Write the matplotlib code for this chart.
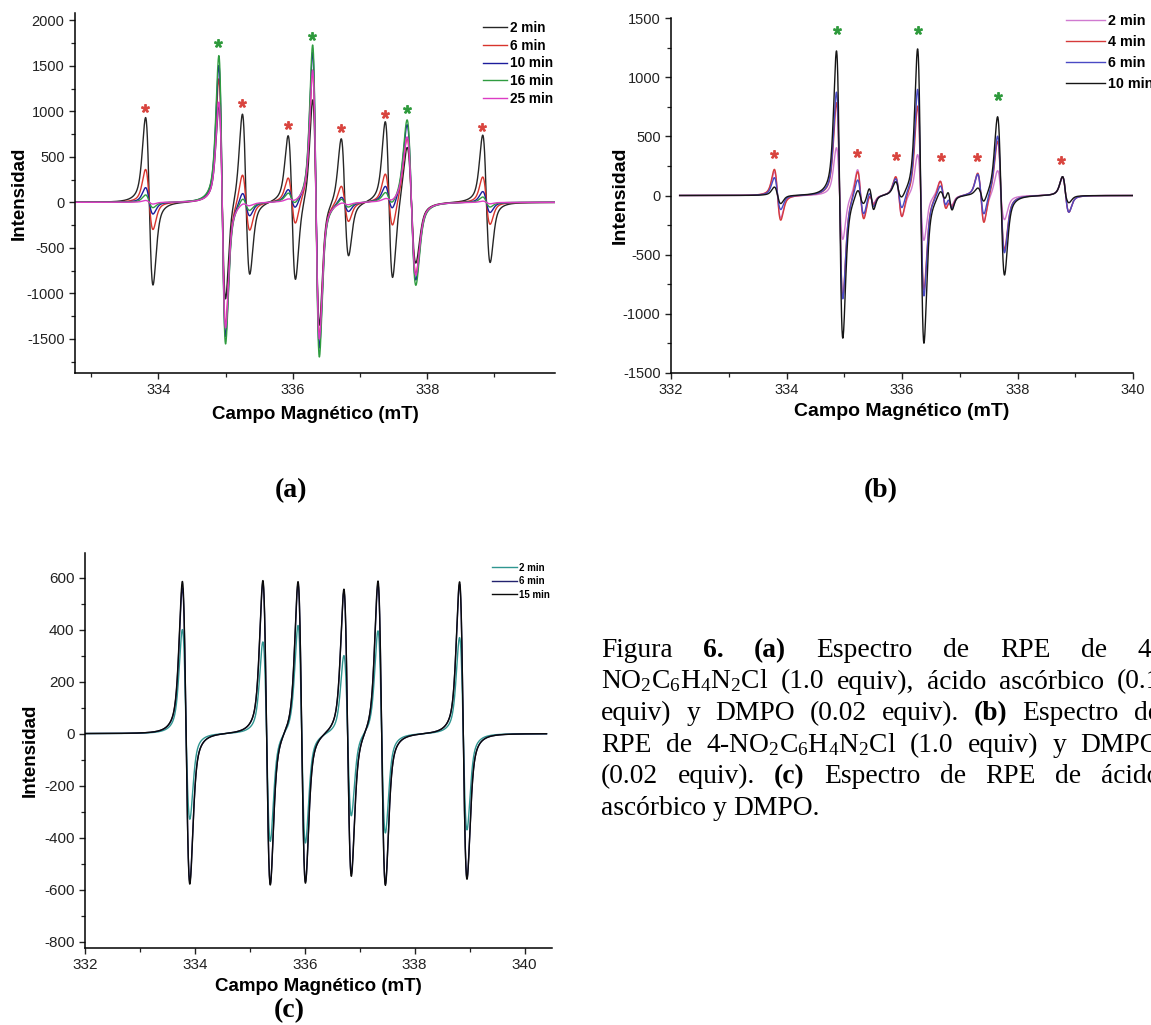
import numpy as np
import matplotlib
matplotlib.use("Agg")
import matplotlib.pyplot as plt
from matplotlib.ticker import MultipleLocator

plt.rcParams["font.family"] = ["Liberation Sans", "DejaVu Sans"]
plt.rcParams["mathtext.fontset"] = "custom"
plt.rcParams["mathtext.rm"] = "Liberation Serif"
plt.rcParams["mathtext.bf"] = "Liberation Serif:bold"
plt.rcParams["mathtext.default"] = "regular"
plt.rcParams["axes.unicode_minus"] = False

# ---------------- (a) 4-NO2C6H4N2Cl + ascorbic acid + DMPO ----------------
A_LABELS = ["2 min", "6 min", "10 min", "16 min", "25 min"]
A_COLORS = ["#262626", "#d8342c", "#1c1c9c", "#2f9c40", "#dc3cc4"]
# aryl adduct lines (red stars): field (mT), peak / trough intensities per time
A_ARYL_FIELD = [333.865, 335.305, 335.985, 336.775, 337.43, 338.88]
A_ARYL_PEAK = [
    [930, 1000, 720, 720, 870, 740],
    [360, 340, 250, 200, 290, 280],
    [160, 140, 120, 80, 150, 120],
    [80, 80, 80, 60, 80, 60],
    [20, 20, 20, 15, 20, 15],
]
A_ARYL_TROUGH = [
    [-910, -780, -880, -580, -870, -660],
    [-300, -290, -270, -200, -300, -240],
    [-130, -130, -100, -90, -120, -110],
    [-60, -70, -50, -40, -60, -50],
    [-20, -20, -15, -15, -20, -15],
]
# triplet lines (green stars)
A_TRIP_FIELD = [334.95, 336.345, 337.765]
A_TRIP_PEAK = [
    [1050, 1150, 650],
    [1350, 1460, 720],
    [1500, 1650, 860],
    [1610, 1730, 910],
    [1100, 1450, 720],
]
A_TRIP_TROUGH = [
    [-1100, -1350, -650],
    [-1390, -1480, -780],
    [-1480, -1600, -850],
    [-1560, -1700, -910],
    [-1380, -1500, -800],
]
A_RED_STARS_X = [333.80, 335.25, 335.93, 336.71, 337.37, 338.82]
A_RED_STARS_Y = [1040, 1095, 845, 820, 965, 825]
A_GREEN_STARS_X = [334.89, 336.29, 337.70]
A_GREEN_STARS_Y = [1745, 1825, 1030]

# ---------------- (b) 4-NO2C6H4N2Cl + DMPO ----------------
B_LABELS = ["2 min", "4 min", "6 min", "10 min"]
B_COLORS = ["#d07ad0", "#d63a3a", "#4a4ac4", "#151515"]
B_ARYL_FIELD = [333.845, 335.285, 335.945, 336.715, 337.365, 338.835]
B_ARYL_PEAK = [
    [200, 230, 140, 130, 170, 150],
    [220, 230, 150, 140, 180, 160],
    [150, 160, 130, 100, 170, 160],
    [70, 80, 100, 60, 50, 160],
]
B_ARYL_TROUGH = [
    [-190, -180, -190, -120, -220, -140],
    [-210, -190, -200, -130, -250, -140],
    [-120, -150, -130, -110, -180, -140],
    [-70, -60, -50, -60, -80, -60],
]
B_TRIP_FIELD = [334.92, 336.325, 337.715]
B_TRIP_PEAK = [
    [400, 350, 220],
    [780, 760, 470],
    [870, 900, 510],
    [1220, 1240, 670],
]
B_TRIP_TROUGH = [
    [-380, -380, -200],
    [-870, -800, -450],
    [-880, -850, -480],
    [-1210, -1250, -670],
]
# weak extra features between the main lines
B_EXTRA_FIELD = [335.47, 336.83]
B_EXTRA_PEAK = [[40, 40], [40, 40], [60, 60], [80, 90]]
B_EXTRA_TROUGH = [[-50, -50], [-60, -60], [-80, -80], [-110, -100]]
B_RED_STARS_X = [333.79, 335.22, 335.89, 336.68, 337.30, 338.75]
B_RED_STARS_Y = [350, 355, 335, 328, 322, 300]
B_GREEN_STARS_X = [334.88, 336.27, 337.66]
B_GREEN_STARS_Y = [1400, 1400, 840]

# ---------------- (c) ascorbic acid + DMPO ----------------
C_LABELS = ["2 min", "6 min", "15 min"]
C_COLORS = ["#2f9690", "#22226e", "#0a0a0a"]
C_FIELD = [333.84, 335.305, 335.945, 336.78, 337.40, 338.885]
C_PEAK = [
    [400, 350, 420, 300, 400, 370],
    [560, 575, 580, 545, 580, 575],
    [585, 585, 590, 555, 595, 585],
]
C_TROUGH = [
    [-330, -420, -420, -320, -380, -370],
    [-570, -585, -570, -545, -575, -555],
    [-580, -590, -575, -555, -580, -560],
]


def first_derivative_line(field, center, pp_width, peak, trough, eta=0.5):
    """First-derivative absorption line (pseudo-Voigt) whose extrema sit
    at center -/+ pp_width/2 with heights `peak` and `trough`."""
    d = field - center
    u = d / (pp_width / 2.0)
    gauss = -u * np.exp(0.5 - u ** 2 / 2.0)
    v = d / (pp_width * np.sqrt(3) / 2.0)
    lorentz = -v / (1 + v ** 2) ** 2 / (3 * np.sqrt(3) / 16)
    shape = eta * lorentz + (1 - eta) * gauss
    return np.where(d < 0, peak * shape, -trough * shape)


def spectrum(field, groups):
    total = np.zeros_like(field)
    for centers, peaks, troughs, width in groups:
        for c, p, t in zip(centers, peaks, troughs):
            total += first_derivative_line(field, c, width, p, t)
    return total


W, H = 1151, 1025
fig = plt.figure(figsize=(W / 100, H / 100), dpi=100)


def axes_px(left, top, right, bottom):
    return fig.add_axes([left / W, 1 - bottom / H, (right - left) / W, (bottom - top) / H])


def style_axes(ax, tick_size):
    for s in ("top", "right"):
        ax.spines[s].set_visible(False)
    for s in ("left", "bottom"):
        ax.spines[s].set_linewidth(1.1)
    ax.tick_params(which="major", direction="out", length=4.5, width=1.0, pad=3,
                   labelsize=tick_size, color="#222222", labelcolor="#222222")
    ax.tick_params(which="minor", direction="out", length=3, width=0.9, color="#222222")


def place_labels(ax, xlab_top, ylab_right, size):
    ax.set_xlabel("Campo Magnético (mT)", fontsize=size, fontweight="bold")
    ax.set_ylabel("Intensidad", fontsize=size, fontweight="bold")
    bb = ax.get_position()
    ax.xaxis.set_label_coords((bb.x0 + bb.x1) / 2, 1 - xlab_top / H, transform=fig.transFigure)
    ax.yaxis.set_label_coords(ylab_right / W, (bb.y0 + bb.y1) / 2, transform=fig.transFigure)


def stars(ax, xs, ys, color, size):
    ax.plot(xs, ys, linestyle="none", marker="$*$", color=color,
            markersize=size, zorder=10)


# ---- panel (a)
axa = axes_px(75, 13, 555, 373)
fa = np.linspace(332.76, 339.9, 3000)
for i, (lab, col) in enumerate(zip(A_LABELS, A_COLORS)):
    y = spectrum(fa, [(A_ARYL_FIELD, A_ARYL_PEAK[i], A_ARYL_TROUGH[i], 0.11),
                      (A_TRIP_FIELD[:2], A_TRIP_PEAK[i][:2], A_TRIP_TROUGH[i][:2], 0.10),
                      (A_TRIP_FIELD[2:], A_TRIP_PEAK[i][2:], A_TRIP_TROUGH[i][2:], 0.13)])
    axa.plot(fa, y, color=col, lw=1.0, label=lab)
axa.set_xlim(332.76, 339.9)
axa.set_ylim(-1875, 2080)
axa.xaxis.set_major_locator(MultipleLocator(2))
axa.xaxis.set_minor_locator(MultipleLocator(1))
axa.yaxis.set_major_locator(MultipleLocator(500))
axa.yaxis.set_minor_locator(MultipleLocator(250))
style_axes(axa, 10.5)
place_labels(axa, 406, 28, 13.5)
stars(axa, A_RED_STARS_X, A_RED_STARS_Y, "#d9453f", 5.5)
stars(axa, A_GREEN_STARS_X, A_GREEN_STARS_Y, "#2e9a3c", 5.5)
axa.legend(loc="upper left", bbox_to_anchor=(476 / W, 1 - 14 / H),
           bbox_transform=fig.transFigure, frameon=False, borderpad=0,
           handlelength=1.75, handletextpad=0.25, labelspacing=0.28,
           prop={"weight": "bold", "size": 9.8})

# ---- panel (b)
axb = axes_px(671, 18, 1133, 373)
fb = np.linspace(332.15, 340.0, 3000)
for i, (lab, col) in enumerate(zip(B_LABELS, B_COLORS)):
    y = spectrum(fb, [(B_ARYL_FIELD, B_ARYL_PEAK[i], B_ARYL_TROUGH[i], 0.11),
                      (B_EXTRA_FIELD, B_EXTRA_PEAK[i], B_EXTRA_TROUGH[i], 0.08),
                      (B_TRIP_FIELD[:2], B_TRIP_PEAK[i][:2], B_TRIP_TROUGH[i][:2], 0.11),
                      (B_TRIP_FIELD[2:], B_TRIP_PEAK[i][2:], B_TRIP_TROUGH[i][2:], 0.12)])
    axb.plot(fb, y, color=col, lw=1.0, label=lab)
axb.set_xlim(332, 340)
axb.set_ylim(-1500, 1500)
axb.xaxis.set_major_locator(MultipleLocator(2))
axb.xaxis.set_minor_locator(MultipleLocator(1))
axb.yaxis.set_major_locator(MultipleLocator(500))
axb.yaxis.set_minor_locator(MultipleLocator(250))
style_axes(axb, 10.5)
place_labels(axb, 403, 629, 14)
stars(axb, B_RED_STARS_X, B_RED_STARS_Y, "#d9453f", 5.5)
stars(axb, B_GREEN_STARS_X, B_GREEN_STARS_Y, "#2e9a3c", 5.5)
axb.legend(loc="upper left", bbox_to_anchor=(1059 / W, 1 - 7 / H),
           bbox_transform=fig.transFigure, frameon=False, borderpad=0,
           handlelength=2.7, handletextpad=0.25, labelspacing=0.48,
           prop={"weight": "bold", "size": 10.3})

# ---- panel (c)
axc = axes_px(85, 553, 552, 948)
fc = np.linspace(332.0, 340.4, 3000)
for i, (lab, col) in enumerate(zip(C_LABELS, C_COLORS)):
    y = spectrum(fc, [(C_FIELD, C_PEAK[i], C_TROUGH[i], 0.135)])
    axc.plot(fc, y, color=col, lw=1.0, label=lab)
axc.set_xlim(332, 340.5)
axc.set_ylim(-825, 695)
axc.xaxis.set_major_locator(MultipleLocator(2))
axc.xaxis.set_minor_locator(MultipleLocator(1))
axc.yaxis.set_major_locator(MultipleLocator(200))
axc.yaxis.set_minor_locator(MultipleLocator(100))
style_axes(axc, 11)
place_labels(axc, 978, 39, 13.5)
axc.legend(loc="upper left", bbox_to_anchor=(487 / W, 1 - 558 / H),
           bbox_transform=fig.transFigure, frameon=False, borderpad=0,
           handlelength=2.6, handletextpad=0.15, labelspacing=0.35,
           prop={"weight": "bold", "size": 7})

# ---- panel letters
serif = ["Liberation Serif", "DejaVu Serif"]
for txt, x, y in (("(a)", 291, 491), ("(b)", 881, 491), ("(c)", 289, 1011)):
    fig.text(x / W, 1 - y / H, txt, ha="center", va="center", family=serif,
             fontweight="bold", fontsize=20)

# ---- justified caption
CAPTION = [
    [("Figura", False), ("6.", True), ("(a)", True), ("Espectro", False), ("de", False),
     ("RPE", False), ("de", False), ("4-", False)],
    [("NO$_2$C$_6$H$_4$N$_2$Cl", False), ("(1.0", False), ("equiv),", False),
     ("ácido", False), ("ascórbico", False), ("(0.1", False)],
    [("equiv)", False), ("y", False), ("DMPO", False), ("(0.02", False), ("equiv).", False),
     ("(b)", True), ("Espectro", False), ("de", False)],
    [("RPE", False), ("de", False), ("4-NO$_2$C$_6$H$_4$N$_2$Cl", False), ("(1.0", False),
     ("equiv)", False), ("y", False), ("DMPO", False)],
    [("(0.02", False), ("equiv).", False), ("(c)", True), ("Espectro", False), ("de", False),
     ("RPE", False), ("de", False), ("ácido", False)],
    [("ascórbico", False), ("y", False), ("DMPO.", False)],
]
cap_left, cap_right, cap_top, cap_step = 601, 1160, 657, 31.6
cap_size = 19.8
renderer = fig.canvas.get_renderer()
for li, words in enumerate(CAPTION):
    ybase = cap_top + li * cap_step
    items = []
    for w, bold in words:
        t = fig.text(cap_left / W, 1 - ybase / H, w, ha="left", va="baseline",
                     family=serif, fontsize=cap_size,
                     fontweight="bold" if bold else "normal")
        items.append(t)
    widths = [t.get_window_extent(renderer).width for t in items]
    if li < len(CAPTION) - 1:
        gap = (cap_right - cap_left - sum(widths)) / (len(items) - 1)
    else:
        gap = cap_size * 100 / 72 * 0.25
    x = cap_left
    for t, wdt in zip(items, widths):
        t.set_x(x / W)
        x += wdt + gap

fig.savefig("out.png", dpi=100)
